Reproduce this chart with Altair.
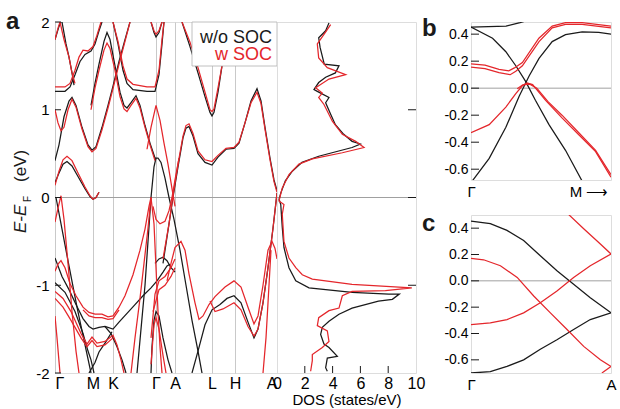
import altair as alt
import pandas as pd

FONT = "Liberation Sans"
BLK = "#1a1a1a"
RED = "#e4262b"
GRID = "#c9c9c9"
ZERO = "#a0a0a0"
LW = 1.25

# ---------------- panel a : band structure ----------------
K_POS = [0, 38, 58, 101, 120, 157, 180, 222]
K_LAB = ["Γ", "M", "K", "Γ", "A", "L", "H", "A\u00a0"]
E_TICKS = [-2, -1, 0, 1, 2]

# w/o SOC bands, [k, E]
B01 = [[0,0.42],[4,0.6],[9,0.92],[14,1.1],[17,1.14],[21,1.05],[27,0.8],[33,0.6],[37,0.54],[41,0.58],[47,0.8],[53,1.05],[58,1.27],[64,1.55],[70,1.8],[75,2.0]]
B02 = [[0,0.17],[4,0.28],[8,0.38],[12,0.41],[17,0.36],[23,0.24],[30,0.1],[35,0.01],[38,-0.02],[41,0.0],[44,0.06]]
B03 = [[0,1.21],[10,1.21],[15,1.26],[20,1.4],[25,1.55],[30,1.63],[36,1.67],[40,1.75],[44,1.9],[47,2.0]]
B04 = [[0,1.8],[4,1.95],[6,2.0]]
B05 = [[7,2.0],[11,1.75],[14,1.6],[17,1.42],[19,1.28]]
B06 = [[36,1.05],[40,1.3],[44,1.52],[49,1.78],[52,1.88],[55,1.8],[60,1.5],[65,1.2],[69,1.05],[72,1.02],[76,1.08],[81,1.16],[85,1.05],[90,0.82],[95,0.62],[100,0.45],[103,0.45],[106,0.4],[110,0.22],[114,0.0],[119,-0.25],[125,-0.6],[131,-1.0],[137,-1.4],[143,-1.75],[147,-2.0]]
B07 = [[58,2.0],[63,1.75],[68,1.45],[72,1.3],[78,1.23],[92,1.21],[100,1.21],[104,1.4],[107,1.75],[109,2.0]]
B08 = [[96,2.0],[99,1.88],[101,1.83],[104,1.88],[107,2.0]]
B09 = [[108,-0.75],[114,-0.3],[118,0.0],[123,0.35],[128,0.68],[131,0.79],[134,0.81],[138,0.7],[143,0.5],[150,0.4],[157,0.37],[163,0.46],[171,0.55],[179,0.56],[184,0.62],[190,0.85],[196,1.1],[202,1.24],[206,1.1],[210,0.8],[215,0.45],[219,0.2],[222,0.08]]
B10 = [[127,2.0],[135,1.72],[143,1.42],[150,1.15],[155,0.97],[157,0.93],[159,0.97],[163,1.2],[167,1.5],[170,1.72]]
B11 = [[137,-2.0],[143,-1.75],[150,-1.45],[157,-1.28],[165,-1.22],[172,-1.15],[179,-1.12],[186,-1.2],[193,-1.42],[199,-1.6],[203,-1.5],[208,-1.2],[213,-0.8],[218,-0.35],[222,0.05]]
B12 = [[1,0.0],[8,-0.42],[14,-0.78],[22,-1.25],[30,-1.68],[36,-2.0]]
B13 = [[0,-0.69],[7,-0.9],[14,-1.05],[21,-1.22],[28,-1.38],[34,-1.47],[38,-1.5],[44,-1.48],[50,-1.47],[58,-1.5],[64,-1.42],[72,-1.32],[80,-1.22],[88,-1.12],[96,-1.03],[102,-0.95],[108,-0.85],[112,-0.78],[115,-0.76]]
B14 = [[50,-1.47],[56,-1.55],[62,-1.7],[67,-1.85],[71,-2.0]]
B15 = [[0,-0.97],[10,-1.08],[20,-1.3],[28,-1.55],[33,-1.75],[36,-1.85],[39,-2.0]]
B16 = [[34,-2.0],[40,-1.88],[44,-1.76],[50,-1.66],[57,-1.53]]
B17 = [[82,-2.0],[86,-1.5],[90,-1.0],[93,-0.5],[96,0.0],[99,0.35],[101,0.45]]
B18 = [[96,-2.0],[97,-1.7],[99,-1.4],[101,-1.3],[104,-1.35],[108,-1.6],[113,-1.85],[117,-2.0]]
B19 = [[100,-0.75],[104,-0.7],[108,-0.68],[112,-0.72],[116,-0.8],[120,-0.85]]

# w SOC bands, [k, E]
R01 = [[0,1.0],[3,0.85],[6,0.76],[9,0.8],[13,1.0],[17,1.12],[21,1.03],[27,0.78],[33,0.58],[37,0.52],[41,0.56],[47,0.77],[53,1.02],[58,1.24],[64,1.52],[70,1.78],[75,2.0]]
R02 = [[0,0.14],[4,0.3],[8,0.43],[12,0.47],[17,0.42],[23,0.28],[30,0.12],[35,0.02],[38,-0.02],[41,0.0],[44,0.06]]
R03 = [[0,1.26],[10,1.26],[15,1.3],[20,1.45],[24,1.6],[28,1.68],[33,1.67],[38,1.72],[42,1.85],[46,2.0]]
R04 = [[0,1.8],[3,1.93],[5,2.0]]
R05 = [[5,2.0],[9,1.8],[14,1.6],[17,1.42],[20,1.3]]
R06 = [[36,1.0],[40,1.25],[44,1.45],[49,1.68],[52,1.76],[55,1.7],[60,1.45],[65,1.15],[69,1.01],[72,0.98],[76,1.05],[81,1.13],[85,1.02],[90,0.8],[95,0.6],[100,0.42]]
R07 = [[92,0.55],[96,0.8],[101,1.05],[105,0.88],[109,0.62],[113,0.38],[117,0.1],[120,-0.1]]
R08 = [[58,2.0],[63,1.78],[68,1.5],[72,1.35],[78,1.29],[92,1.26],[100,1.26],[104,1.45],[107,1.8],[109,2.0]]
R09 = [[96,2.0],[99,1.9],[101,1.86],[104,1.9],[107,2.0]]
R10 = [[108,-0.7],[114,-0.3],[118,0.02],[123,0.38],[128,0.7],[131,0.82],[134,0.84],[138,0.73],[143,0.53],[150,0.43],[157,0.41],[163,0.48],[171,0.56],[179,0.57],[184,0.63],[190,0.85],[196,1.08],[202,1.2],[206,1.07],[210,0.78],[215,0.43],[219,0.18],[222,0.06]]
R11 = [[127,2.0],[135,1.77],[143,1.48],[150,1.2],[155,1.0],[157,0.98],[159,1.01],[163,1.25],[167,1.5],[170,1.72]]
R12 = [[0,-0.28],[3,-0.12],[6,0.02],[9,-0.25],[13,-0.75],[17,-1.3],[21,-1.75],[24,-2.0]]
R13 = [[0,-0.84],[3,-0.76],[6,-0.72],[10,-0.8],[15,-0.98],[21,-1.12],[28,-1.25],[34,-1.31],[40,-1.33],[47,-1.33],[53,-1.36],[58,-1.35],[64,-1.25],[70,-1.12],[78,-0.88],[85,-0.6],[90,-0.36],[94,-0.1],[96,0.0]]
R14 = [[28,-1.28],[34,-1.35],[40,-1.37],[47,-1.37],[53,-1.39],[58,-1.38],[64,-1.28]]
R15 = [[96,0.0],[99,-0.3],[101,-0.8],[103,-1.3],[105,-1.7],[107,-2.0]]
R16 = [[98,-0.1],[101,-0.25],[105,-0.3],[110,-0.27],[114,-0.15],[117,0.0],[120,0.2],[124,0.45]]
R17 = [[112,-0.95],[116,-0.75],[120,-0.57],[126,-0.5],[130,-0.6],[134,-0.87],[140,-1.2],[144,-1.39],[148,-1.35],[154,-1.22],[160,-1.13],[170,-1.02],[179,-0.95],[186,-1.02],[193,-1.25],[199,-1.44],[203,-1.35],[208,-1.0],[213,-0.6],[217,-0.5],[220,-0.58],[222,-0.7]]
R18 = [[155,-1.18],[160,-1.3],[168,-1.27],[179,-1.2],[186,-1.28],[193,-1.47],[199,-1.58],[203,-1.5],[208,-1.2],[213,-0.8],[218,-0.35],[222,0.05]]
R19 = [[208,-2.0],[211,-1.6],[214,-1.0],[216,-0.6]]
R20 = [[0,-1.07],[8,-1.15],[16,-1.3],[26,-1.55],[32,-1.67],[37,-1.59],[42,-1.66],[50,-1.64],[58,-1.57],[62,-1.68],[66,-1.85],[69,-2.0]]
R21 = [[0,-1.15],[8,-1.25],[16,-1.4],[26,-1.6],[32,-1.7],[37,-1.63],[42,-1.7],[50,-1.68],[58,-1.6]]
R22 = [[0,-1.35],[2,-1.6],[5,-2.0]]
R23 = [[76,-2.0],[80,-1.6],[85,-1.15],[89,-0.75],[93,-0.35],[96,0.0]]
R24 = [[96,-1.6],[100,-1.1],[104,-0.95],[110,-0.9],[116,-0.8],[120,-0.7]]
R25 = [[98,-1.3],[104,-1.05],[110,-1.0],[116,-0.9],[120,-0.8]]
R26 = [[96,-1.9],[99,-1.45],[101,-1.37],[104,-1.5],[108,-1.8],[111,-2.0]]

BLACK_BANDS = [B01,B02,B03,B04,B05,B06,B07,B08,B09,B10,B11,B12,B13,B14,B15,B16,B17,B18,B19]
RED_BANDS = [R01,R02,R03,R04,R05,R06,R07,R08,R09,R10,R11,R12,R13,R14,R15,R16,R17,R18,R19,R20,R21,R22,R23,R24,R25,R26]

# ---------------- DOS ----------------
DOS_V_BLACK = [3.74,3.5,3.0,3.1,3.4,4.46,4.2,3.5,3.0,2.66,2.9,3.74,3.5,3.86,4.2,4.8,5.4,6.0,5.4,3.0,1.8,1.1,0.6,0.27,0.15,0.27,0.38,0.5,0.86,1.35,2.3,5.4,8.05,8.8,8.3,7.3,5.4,4.46,3.74,3.26,3.14,3.38,3.74,4.34,3.62,3.5,3.62]
DOS_E_BLACK = [1.99,1.9,1.82,1.71,1.52,1.5,1.42,1.37,1.31,1.23,1.21,1.14,1.08,0.95,0.83,0.72,0.64,0.61,0.57,0.47,0.4,0.3,0.19,0.05,-0.02,-0.08,-0.34,-0.57,-0.8,-0.95,-1.03,-1.08,-1.1,-1.1,-1.16,-1.18,-1.26,-1.33,-1.41,-1.48,-1.56,-1.67,-1.71,-1.81,-1.83,-1.94,-1.98]
DOS_V_RED = [3.86,3.38,2.9,3.0,3.62,4.94,3.74,2.78,3.26,3.0,3.38,3.98,4.7,5.66,6.26,4.7,2.54,1.58,0.86,0.38,0.14,0.5,0.38,0.5,0.86,1.35,1.82,2.54,5.4,9.7,7.8,5.4,4.7,4.46,3.74,3.0,2.9,3.62,3.74,3.26,2.54,2.54,2.42]
DOS_E_RED = [1.97,1.86,1.75,1.59,1.48,1.4,1.35,1.25,1.19,1.14,1.06,0.87,0.72,0.64,0.57,0.51,0.44,0.38,0.26,0.11,-0.04,-0.08,-0.19,-0.5,-0.69,-0.8,-0.88,-0.93,-0.99,-1.03,-1.06,-1.07,-1.12,-1.26,-1.29,-1.37,-1.46,-1.52,-1.64,-1.71,-1.79,-1.86,-1.98]
DOS_TICKS = [0, 2, 4, 6, 8, 10]

# ---------------- panel b (Γ -> M zoom) ----------------
B_TICKS = [-0.6, -0.4, -0.2, 0.0, 0.2, 0.4]
PB_BLACK_1 = [[0,0.452],[0.25,0.46],[0.35,0.485],[0.415,0.505]]
PB_BLACK_2 = [[0,0.452],[0.154,0.37],[0.249,0.27],[0.32,0.166],[0.39,0.05],[0.46,-0.09],[0.557,-0.27],[0.675,-0.46],[0.80,-0.70]]
PB_BLACK_3 = [[0,-0.70],[0.13,-0.52],[0.249,-0.29],[0.344,-0.06],[0.415,0.09],[0.486,0.22],[0.58,0.345],[0.675,0.396],[0.794,0.416],[0.912,0.414],[1.0,0.40]]
PB_RED_1 = [[0,0.18],[0.1,0.17],[0.2,0.14],[0.27,0.128],[0.31,0.15],[0.367,0.19],[0.485,0.37],[0.58,0.46],[0.675,0.485],[0.794,0.485],[1.0,0.46]]
PB_RED_2 = [[0,0.155],[0.1,0.145],[0.2,0.115],[0.28,0.10],[0.32,0.125],[0.367,0.166],[0.486,0.345],[0.58,0.447],[0.675,0.472],[0.794,0.472],[1.0,0.447]]
PB_RED_3 = [[0,-0.33],[0.13,-0.27],[0.249,-0.14],[0.32,-0.04],[0.367,0.018],[0.40,0.038],[0.44,0.026],[0.533,-0.09],[0.65,-0.22],[0.77,-0.345],[0.89,-0.47],[1.0,-0.66]]
PB_RED_4 = [[0.33,-0.005],[0.37,0.025],[0.42,0.03],[0.47,0.0],[0.55,-0.1],[0.65,-0.2],[0.77,-0.33],[0.89,-0.46],[1.0,-0.64]]

# ---------------- panel c (Γ -> A zoom) ----------------
PC_BLACK_1 = [[0,0.454],[0.138,0.434],[0.257,0.383],[0.376,0.306],[0.495,0.19],[0.614,0.077],[0.733,-0.026],[0.852,-0.128],[1.0,-0.243]]
PC_BLACK_2 = [[0,-0.70],[0.138,-0.69],[0.257,-0.65],[0.376,-0.60],[0.495,-0.52],[0.614,-0.447],[0.733,-0.37],[0.852,-0.294],[1.0,-0.243]]
PC_RED_1 = [[0,0.171],[0.09,0.16],[0.21,0.115],[0.33,0.026],[0.448,-0.115],[0.567,-0.243],[0.686,-0.37],[0.805,-0.498],[0.924,-0.6],[1.0,-0.65]]
PC_RED_2 = [[0,-0.332],[0.138,-0.319],[0.257,-0.294],[0.376,-0.243],[0.495,-0.166],[0.614,-0.077],[0.733,0.026],[0.852,0.115],[1.0,0.204]]
PC_RED_3 = [[0.698,0.503],[0.805,0.396],[0.924,0.28],[1.0,0.204]]
PC_RED_4 = [[0.935,-0.70],[1.0,-0.65]]


def lines_df(bands, tag, xname):
    rows = []
    for j, pts in enumerate(bands):
        for i, (x, e) in enumerate(pts):
            rows.append({"band": f"{tag}{j}", xname: x, "E": e, "i": i})
    return pd.DataFrame(rows)


def txt(t, x, y, **kw):
    return alt.Chart(pd.DataFrame({"t": [t]})).mark_text(font=FONT, **kw).encode(
        x=alt.value(x), y=alt.value(y), text="t:N")


minus_fix = "replace(datum.label, '\u2212', '-')"

# ======== panel a bands ========
W_A, H_A = 222, 351
lab_expr = "".join(f"datum.value == {p} ? '{l}' : " for p, l in zip(K_POS, K_LAB)) + "''"
xk = alt.X("k:Q", scale=alt.Scale(domain=[0, 222], nice=False, zero=False),
           axis=alt.Axis(values=K_POS, labelExpr=lab_expr, grid=True, gridColor=GRID, gridWidth=1,
                         ticks=False, domain=False, labelFontSize=16, labelPadding=2, title=None,
                         labelFlush=True))
ye = alt.Y("E:Q", scale=alt.Scale(domain=[-2, 2], nice=False, zero=False),
           axis=alt.Axis(values=E_TICKS, ticks=False, domain=False, grid=False, labelFontSize=15,
                         labelPadding=6, title=None, labelExpr=minus_fix))

df_black = lines_df(BLACK_BANDS, "b", "k")
df_red = lines_df(RED_BANDS, "r", "k")

zero_a = alt.Chart(pd.DataFrame({"E": [0]})).mark_rule(color=ZERO, strokeWidth=1).encode(y=ye)
black_a = alt.Chart(df_black).mark_line(color=BLK, strokeWidth=LW, clip=True).encode(
    x=xk, y=ye, detail="band:N", order="i:Q")
red_a = alt.Chart(df_red).mark_line(color=RED, strokeWidth=LW, clip=True).encode(
    x=xk, y=ye, detail="band:N", order="i:Q")
ticks_a = alt.Chart(pd.DataFrame({"E": E_TICKS})).mark_rule(color=BLK, strokeWidth=1).encode(
    y=ye, x=alt.value(0), x2=alt.value(6))
leg_box = alt.Chart(pd.DataFrame({"z": [0]})).mark_rect(fill="white", stroke="#b0b0b0", strokeWidth=0.8).encode(
    x=alt.value(137), x2=alt.value(222), y=alt.value(0), y2=alt.value(44))
leg1 = txt("w/o SOC", 217, 21, align="right", baseline="alphabetic", fontSize=18, color=BLK)
leg2 = txt("w  SOC", 217, 38, align="right", baseline="alphabetic", fontSize=18, color=RED)
lab_a = txt("a", -49, 7, align="left", baseline="alphabetic", fontSize=24, fontWeight="bold", color=BLK)
yt1 = txt("E-E", -29, 211, align="left", baseline="alphabetic", fontSize=17, fontStyle="italic", angle=270, color=BLK)
yt2 = txt("F", -24, 180, align="left", baseline="alphabetic", fontSize=10, angle=270, color=BLK)
yt3 = txt("(eV)", -29, 160, align="left", baseline="alphabetic", fontSize=17, angle=270, color=BLK)

bands = alt.layer(zero_a, black_a, red_a, ticks_a, leg_box, leg1, leg2, lab_a, yt1, yt2, yt3).properties(
    width=W_A, height=H_A)

# ======== panel a DOS ========
W_D = 139
df_dos_b = pd.DataFrame({"v": DOS_V_BLACK, "E": DOS_E_BLACK, "i": range(len(DOS_V_BLACK))})
df_dos_r = pd.DataFrame({"v": DOS_V_RED, "E": DOS_E_RED, "i": range(len(DOS_V_RED))})
xd = alt.X("v:Q", scale=alt.Scale(domain=[0, 10], nice=False, zero=False),
           axis=alt.Axis(values=DOS_TICKS, ticks=False, domain=False, grid=False, labelFontSize=16,
                         labelPadding=2, labelFlush=False,
                         labelExpr="datum.value == 0 ? '\u00a0\u00a00' : datum.label",
                         title="DOS (states/eV)", titleFontSize=15,
                         titleFontWeight="normal", titlePadding=1))
yd = alt.Y("E:Q", scale=alt.Scale(domain=[-2, 2], nice=False, zero=False), axis=None)
zero_d = alt.Chart(pd.DataFrame({"E": [0]})).mark_rule(color=ZERO, strokeWidth=1).encode(y=yd)
dos_b = alt.Chart(df_dos_b).mark_line(color=BLK, strokeWidth=LW).encode(x=xd, y=yd, order="i:Q")
dos_r = alt.Chart(df_dos_r).mark_line(color=RED, strokeWidth=LW).encode(x=xd, y=yd, order="i:Q")
ticks_dr = alt.Chart(pd.DataFrame({"E": [-1, 0, 1]})).mark_rule(color=BLK, strokeWidth=1).encode(
    y=yd, x=alt.value(W_D - 8), x2=alt.value(W_D))
ticks_db = alt.Chart(pd.DataFrame({"v": [2, 4, 6, 8]})).mark_rule(color=BLK, strokeWidth=1).encode(
    x=xd, y=alt.value(H_A - 7), y2=alt.value(H_A))
dos = alt.layer(zero_d, dos_b, dos_r, ticks_dr, ticks_db).properties(width=W_D, height=H_A)

# ======== spacer between panel a and panels b/c ========
spacer = alt.Chart(pd.DataFrame({"z": [0]})).mark_point(opacity=0).encode(
    x=alt.value(0), y=alt.value(0)).properties(
    width=55, height=H_A, view=alt.ViewBackground(strokeOpacity=0, fillOpacity=0))

# ======== panels b and c ========
W_B, H_B = 140, 158


def zoom_panel(blacks, reds, ydom, xvals, xexpr, letter, ly):
    xs = alt.X("x:Q", scale=alt.Scale(domain=[0, 1], nice=False, zero=False),
               axis=alt.Axis(values=xvals, labelExpr=xexpr, ticks=False, domain=False, grid=False,
                             labelFontSize=15, labelPadding=4, labelFlush=False, title=None))
    ys = alt.Y("E:Q", scale=alt.Scale(domain=ydom, nice=False, zero=False),
               axis=alt.Axis(values=B_TICKS, format=".1f", labelExpr=minus_fix, ticks=False, domain=False,
                             grid=False, labelFontSize=14, labelPadding=3, title=None))
    z = alt.Chart(pd.DataFrame({"E": [0]})).mark_rule(color=ZERO, strokeWidth=1).encode(y=ys)
    bl = alt.Chart(lines_df(blacks, "b", "x")).mark_line(color=BLK, strokeWidth=LW, clip=True).encode(
        x=xs, y=ys, detail="band:N", order="i:Q")
    rd = alt.Chart(lines_df(reds, "r", "x")).mark_line(color=RED, strokeWidth=LW, clip=True).encode(
        x=xs, y=ys, detail="band:N", order="i:Q")
    tk = alt.Chart(pd.DataFrame({"E": B_TICKS})).mark_rule(color=BLK, strokeWidth=1).encode(
        y=ys, x=alt.value(0), x2=alt.value(8))
    lt = txt(letter, -49, ly, align="left", baseline="alphabetic", fontSize=24, fontWeight="bold", color=BLK)
    return alt.layer(z, bl, rd, tk, lt).properties(width=W_B, height=H_B)


panel_b = zoom_panel([PB_BLACK_1, PB_BLACK_2, PB_BLACK_3], [PB_RED_1, PB_RED_2, PB_RED_3, PB_RED_4],
                     [-0.68, 0.49], [0, 0.84], "datum.value == 0 ? '\u0393' : 'M \u27f6'", "b", 14)
panel_c = zoom_panel([PC_BLACK_1, PC_BLACK_2], [PC_RED_1, PC_RED_2, PC_RED_3, PC_RED_4],
                     [-0.70, 0.50], [0, 1], "datum.value == 0 ? '\u0393' : 'A'", "c", 16)

right = alt.vconcat(panel_b, panel_c, spacing=35, bounds="flush")

chart = alt.hconcat(bands, dos, spacer, right, spacing=0, bounds="flush").properties(
    padding={"left": 5, "top": 9, "right": 0, "bottom": 0}
).configure_view(stroke=BLK, strokeWidth=1.2).configure_axis(
    labelFont=FONT, titleFont=FONT, labelColor="#111111", titleColor="#111111"
).configure(background="white")

chart.save("out.html", embed_options={"renderer": "svg", "actions": False})
